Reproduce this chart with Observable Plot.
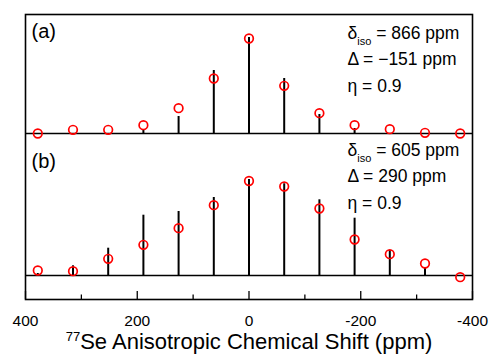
<!DOCTYPE html>
<html>
<head>
<meta charset="utf-8">
<script src="https://cdn.jsdelivr.net/npm/d3@7"></script>
<script src="https://cdn.jsdelivr.net/npm/@observablehq/plot@0.6"></script>
<style>
  html, body { margin: 0; padding: 0; background: #fff; }
  svg { font-family: "Liberation Sans", Arial, sans-serif; display: block; }
</style>
</head>
<body>
<div id="chart"></div>
<script>
// Sideband positions (ppm)
const shifts = [378, 315, 252, 189, 126, 63, 0, -63, -126, -189, -252, -315, -378];
// Panel (a): experimental stick intensities and simulated (circles)
const stickA = [0, 0, 0, 4, 17, 63, 96, 55, 19, 5, 0, 0, 0];
const simA   = [0, 3.7, 3.7, 8.3, 25.3, 55, 95, 47.7, 20.3, 8.3, 4.3, 0.7, 0];
// Panel (b)
const stickB = [2, 9.7, 27.3, 60.3, 64, 78, 96, 91.7, 75.7, 57.3, 25, 7.7, 0];
const simB   = [5, 4.3, 16.7, 30.7, 47.3, 70.3, 94.5, 89, 67, 36, 21.3, 12, -1.7];
// Tick labels
const majorTicks = [400, 200, 0, -200, -400];
const minorTicks = [300, 100, -100, -300];
// Texts
const panelLabels = ["(a)", "(b)"];
const paramsA = ["δiso = 866 ppm", "Δ = −151 ppm", "η = 0.9"];
const paramsB = ["δiso = 605 ppm", "Δ = 290 ppm", "η = 0.9"];
const xTitle = "77Se Anisotropic Chemical Shift (ppm)";

// Vertical stacking offsets of each panel's baseline (layout)
const offA = 166, offB = 24;

const rowsA = shifts.map((x, i) => ({x, base: offA, stick: offA + stickA[i], sim: offA + simA[i]}));
const rowsB = shifts.map((x, i) => ({x, base: offB, stick: offB + stickB[i], sim: offB + simB[i]}));
const rows = rowsA.concat(rowsB);

const plot = Plot.plot({
  width: 491,
  height: 354,
  marginLeft: 25,
  marginRight: 19,
  marginTop: 14,
  marginBottom: 55,
  style: {fontFamily: "'Liberation Sans', Arial, sans-serif", background: "#fff", overflow: "visible"},
  x: {domain: [400, -400], label: null},
  y: {domain: [0, 285], axis: null},
  marks: [
    Plot.ruleY([offA, offB], {stroke: "#000", strokeWidth: 1.5}),
    Plot.ruleX(rows, {x: "x", y1: "base", y2: "stick", stroke: "#000", strokeWidth: 2}),
    Plot.dot(rows, {x: "x", y: "sim", r: 4.3, stroke: "#ff0000", strokeWidth: 1.7, fill: "none"}),
    Plot.axisX(majorTicks, {tickSize: -8, tickFormat: () => "", label: null, stroke: "#000", strokeWidth: 1.3}),
    Plot.axisX(minorTicks, {tickSize: -4.5, tickFormat: () => "", label: null, stroke: "#000", strokeWidth: 1.3}),
    Plot.axisX(majorTicks, {tickSize: 0, tickPadding: 15, tickFormat: d => String(d), fontSize: 15.5, label: null, fill: "#000"}),
    Plot.frame({stroke: "#000", strokeWidth: 1.6}),
    Plot.text([panelLabels[0]], {text: d => d, frameAnchor: "top-left", textAnchor: "start", lineAnchor: "top", dx: 6, dy: 9, fontSize: 20, fill: "#000"}),
    Plot.text([panelLabels[1]], {text: d => d, frameAnchor: "top-left", textAnchor: "start", lineAnchor: "top", dx: 6, dy: 139, fontSize: 20, fill: "#000"}),
    Plot.text([paramsA.join("\n")], {text: d => d, frameAnchor: "top-left", textAnchor: "start", lineAnchor: "top", lineHeight: 1.53, dx: 322, dy: 5, fontSize: 17.5, fill: "#000"}),
    Plot.text([paramsB.join("\n")], {text: d => d, frameAnchor: "top-left", textAnchor: "start", lineAnchor: "top", lineHeight: 1.53, dx: 322, dy: 122, fontSize: 17.5, fill: "#000"}),
    Plot.text([xTitle], {text: d => d, frameAnchor: "bottom", textAnchor: "middle", lineAnchor: "bottom", dy: 49, fontSize: 22, fill: "#000"})
  ]
});

// Rich text: subscripts and superscripts
const NS = "http://www.w3.org/2000/svg";
plot.querySelectorAll("text, tspan").forEach(el => {
  if (el.childElementCount !== 0) return;
  const t = el.textContent;
  if (t.startsWith("δiso")) {
    el.textContent = "δ";
    const sub = document.createElementNS(NS, "tspan");
    sub.setAttribute("font-size", "11");
    sub.setAttribute("dy", "6");
    sub.textContent = "iso";
    const rest = document.createElementNS(NS, "tspan");
    rest.setAttribute("dy", "-6");
    rest.textContent = t.slice(4);
    el.append(sub, rest);
  } else if (t.startsWith("77Se")) {
    el.textContent = "";
    const sup = document.createElementNS(NS, "tspan");
    sup.setAttribute("font-size", "13");
    sup.setAttribute("dy", "-8");
    sup.textContent = "77";
    const rest = document.createElementNS(NS, "tspan");
    rest.setAttribute("dy", "8");
    rest.textContent = t.slice(2);
    el.append(sup, rest);
  }
});

document.getElementById("chart").append(plot);
</script>
</body>
</html>
